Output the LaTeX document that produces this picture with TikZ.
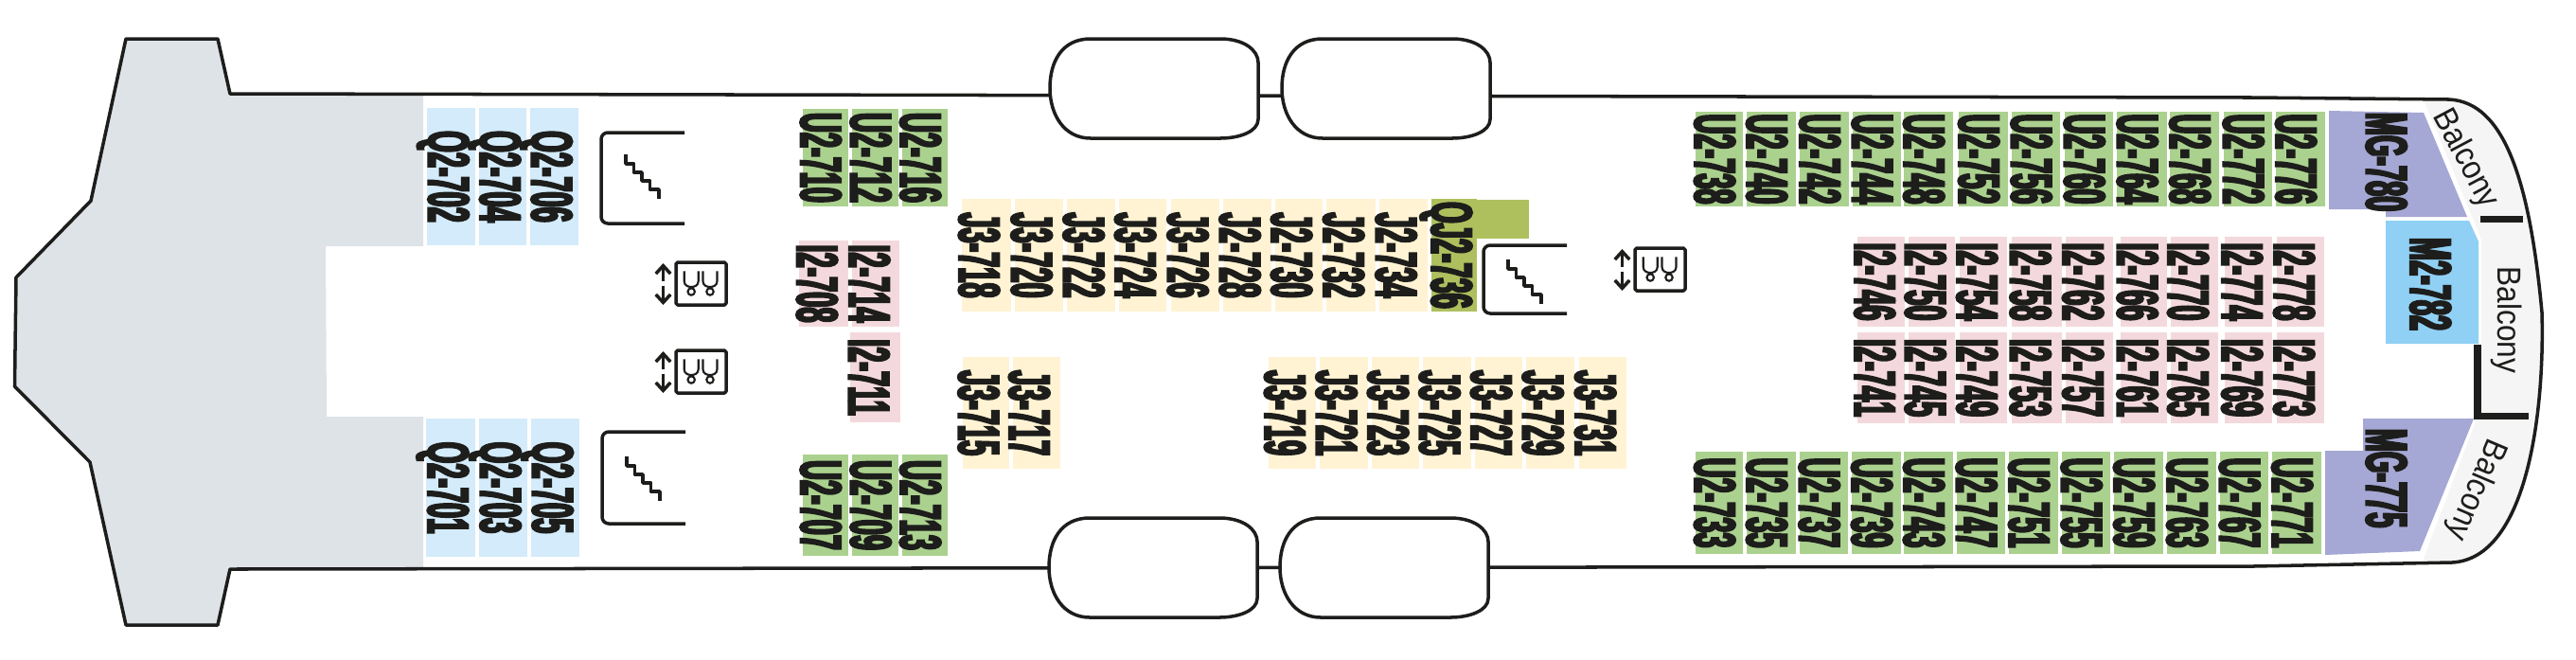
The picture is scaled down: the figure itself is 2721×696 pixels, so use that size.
\documentclass[tikz,border=0pt]{standalone}
\usepackage{fontspec}
\usetikzlibrary{arrows.meta}
\newfontfamily\cabinface[FakeStretch=0.47,FakeBold=3.5]{Liberation Sans}
\newfontfamily\balconyface[FakeStretch=0.9]{Liberation Sans}
\definecolor{ink}{HTML}{1D1D1B}
\definecolor{deckgrey}{HTML}{DEE3E8}
\definecolor{balconygrey}{HTML}{F5F5F5}
\definecolor{ugreen}{HTML}{ABD18E}
\definecolor{qblue}{HTML}{D3EBFA}
\definecolor{jyellow}{HTML}{FFF3D3}
\definecolor{ipink}{HTML}{F3D9DD}
\definecolor{mgpurple}{HTML}{A5A7D4}
\definecolor{mblue}{HTML}{90D0F4}
\definecolor{qjolive}{HTML}{AEC05E}
\newcommand{\cabinrow}[4]{%
  \foreach \xa/\xb/\cabin in {#4} {
    \node[#1, minimum width={(#3-#2)*0.1mm}, minimum height={(\xb-\xa)*0.1mm}] (\cabin) at ({(\xa+\xb)/2},{(#2+#3)/2}) {\raisebox{-\cabindrop}{\cabin}};
  }}
\begin{document}
\begin{tikzpicture}[x=0.01cm,y=-0.01cm]
\tikzset{
  hullline/.style={draw=ink, line width=1pt, line join=round},
  thinline/.style={draw=ink, line width=0.6pt},
  drop/.code={\def\cabindrop{#1}},
  cabinbox/.style={rotate=-90, inner sep=0pt, text=ink, text height=4.6mm, text depth=0pt, font=\fontsize{17.5}{17.5}\selectfont\cabinface\bfseries},
  qcabin/.style={cabinbox, fill=qblue, drop=0.1mm},
  ucabin/.style={cabinbox, fill=ugreen, drop=0.3mm},
  icabin/.style={cabinbox, fill=ipink, drop=0.5mm},
  jcabin/.style={cabinbox, fill=jyellow, drop=0.6mm},
  qjcabin/.style={cabinbox, fill=qjolive, drop=0.1mm},
  suite/.style={cabinbox},
  balcony/.style={text=ink, inner sep=0pt, font=\fontsize{10}{12}\selectfont\balconyface}
}
\useasboundingbox (0,0) rectangle (2721,696);
\fill[deckgrey] (133,41) -- (230,41) -- (243,99) -- (447,100) -- (447,260) -- (344,260) -- (345,440) -- (447,440) -- (447,601) -- (243,601) -- (230,660) -- (133,660) -- (95,488) -- (15.5,408) -- (17,293) -- (96,212) -- cycle;
\fill[balconygrey] (2560,105) -- (2587,105) .. controls (2645,108) and (2672,190) .. (2685,330) .. controls (2688,440) and (2668,590) .. (2590,594) -- (2558,595) -- (2615,445) -- (2621,440) -- (2621,253) -- cycle;
\draw[hullline] (243,99) -- (230,41) -- (133,41) -- (96,212) -- (17,293) -- (15.5,408) -- (95,488) -- (133,660) -- (230,660) -- (243,601) -- (2380,598) -- (2590,594) .. controls (2668,590) and (2688,440) .. (2685,330) .. controls (2672,190) and (2645,108) .. (2587,105) -- (2380,103) -- cycle;
\foreach \bx/\by in {1109/41, 1354/41, 1108/547, 1352/547} {
  \draw[hullline, fill=white, shift={(\bx,\by)}] (43,0) -- (180,0) .. controls (205,0) and (220,12) .. (220,25) -- (220,85) .. controls (220,98) and (200,105) .. (180,105) -- (43,105) .. controls (15,105) and (0,80) .. (0,52) .. controls (0,25) and (12,0) .. (43,0) -- cycle;
}
\foreach \sx/\sy/\sh/\so in {635/140/96/23, 636/456/97/26, 1567/259/72/15} {
  \draw[hullline, rounded corners=2pt] ({\sx+88},\sy) -- (\sx,\sy) -- (\sx,{\sy+\sh}) -- ({\sx+88},{\sy+\sh});
  \draw[hullline, shift={({\sx+26},{\sy+\so})}] (0,0) -- (0,10) -- (8.5,10) -- (8.5,19) -- (17,19) -- (17,28) -- (25.5,28) -- (25.5,37) -- (35,37) -- (35,47);
}
\foreach \lx/\ly in {714/277, 714/370, 1727/262} {
  \draw[hullline, rounded corners=0.5pt] (\lx,\ly) rectangle ({\lx+53},{\ly+45});
  \draw[hullline, -{Straight Barb[length=2.4pt,width=4.4pt]}] ({\lx-13.5},{\ly+20}) -- ({\lx-13.5},{\ly+1});
  \draw[hullline, -{Straight Barb[length=2.4pt,width=4.4pt]}] ({\lx-13.5},{\ly+25}) -- ({\lx-13.5},{\ly+45});
  \foreach \ux in {8.7, 28.5} {
    \draw[thinline, shift={(\lx+\ux,\ly)}] (0,9.3) -- (0,20) .. controls (0,25) and (5,26) .. (7.5,26) .. controls (10,26) and (15,25) .. (15,20) -- (15,9.3);
    \draw[thinline, shift={(\lx+\ux,\ly)}] (7.5,31) circle (3.7);
  }
}
\cabinrow{qcabin}{114}{259}{451/502/Q2-702, 506/556/Q2-704, 560/611/Q2-706}
\cabinrow{qcabin}{442}{588}{450/502/Q2-701, 506/557/Q2-703, 561/612/Q2-705}
\cabinrow{ucabin}{115}{218}{848/895.5/U2-710, 900/949/U2-712, 953/1001/U2-716}
\cabinrow{ucabin}{480}{587}{848/895.5/U2-707, 900/949/U2-709, 953/1001/U2-713}
\cabinrow{icabin}{254}{345}{844/895.5/I2-708, 900/950/I2-714}
\cabinrow{icabin}{351}{446}{898/951/I2-711}
\cabinrow{jcabin}{210}{329}{1016/1068/J3-718, 1072/1123/J3-720, 1127/1178/J3-722, 1182/1232/J3-724, 1237/1288/J3-726, 1292/1343/J2-728, 1347/1397/J2-730, 1401/1453/J2-732, 1457/1508/J2-734}
\cabinrow{jcabin}{377}{495}{1017/1066/J3-715, 1070/1120/J3-717, 1340/1390/J3-719, 1394/1445/J3-721, 1449/1499/J3-723, 1503/1554/J3-725, 1558/1608/J3-727, 1612/1663/J3-729, 1668/1718/J3-731}
\fill[qjolive] (1555,211) rectangle (1615,252);
\cabinrow{qjcabin}{210}{329}{1512/1560/QJ2-736}
\cabinrow{ucabin}{118}{218}{1791/1841/U2-738, 1845/1897/U2-740, 1901/1953/U2-742, 1957/2008/U2-744, 2011/2063/U2-748, 2069/2121/U2-752, 2125/2176/U2-756, 2181/2232/U2-760, 2236/2289/U2-764, 2292/2344/U2-768, 2349/2400/U2-772, 2404/2456/U2-776}
\cabinrow{ucabin}{477}{585}{1791/1841/U2-733, 1845/1897/U2-735, 1901/1952/U2-737, 1956/2008/U2-739, 2011/2063/U2-743, 2067/2118/U2-747, 2122/2174/U2-751, 2178/2229/U2-755, 2233/2285/U2-759, 2289/2341/U2-763, 2345/2396/U2-767, 2400/2452/U2-771}
\cabinrow{icabin}{250}{345}{1962/2012/I2-746, 2016/2065/I2-750, 2070/2120/I2-754, 2125/2178/I2-758, 2182/2232/I2-762, 2240/2289/I2-766, 2293/2343/I2-770, 2350/2400/I2-774, 2405/2455/I2-778}
\cabinrow{icabin}{351.5}{446.5}{1962/2012/I2-741, 2016/2065/I2-745, 2070/2120/I2-749, 2125/2178/I2-753, 2182/2232/I2-757, 2240/2289/I2-761, 2293/2343/I2-765, 2350/2400/I2-769, 2405/2455/I2-773}
\fill[mgpurple] (2460,117) -- (2560,119) -- (2606,229) -- (2520,229) -- (2520,221) -- (2460,221) -- cycle;
\fill[mblue] (2520,233) -- (2608,233) -- (2618,255) -- (2618,363) -- (2520,363) -- cycle;
\fill[mgpurple] (2496,442) -- (2613,442) -- (2556,582) -- (2456,586) -- (2456,476) -- (2496,476) -- cycle;
\node[suite] (MG-780) at (2522.5,171) {MG-780};
\node[suite] (M2-782) at (2569,300) {M2-782};
\node[suite] (MG-775) at (2522.5,505) {MG-775};
\fill[ink] (2620,228) rectangle (2665,235);
\fill[ink] (2613,364) rectangle (2621,443);
\fill[ink] (2613,436) rectangle (2671,443);
\node[balcony, rotate=-62] (balconytop) at (2604,168) {Balcony};
\node[balcony, rotate=-90] (balconymid) at (2648,338) {Balcony};
\node[balcony, rotate=-113] (balconybot) at (2615,517) {Balcony};
\end{tikzpicture}
\end{document}
